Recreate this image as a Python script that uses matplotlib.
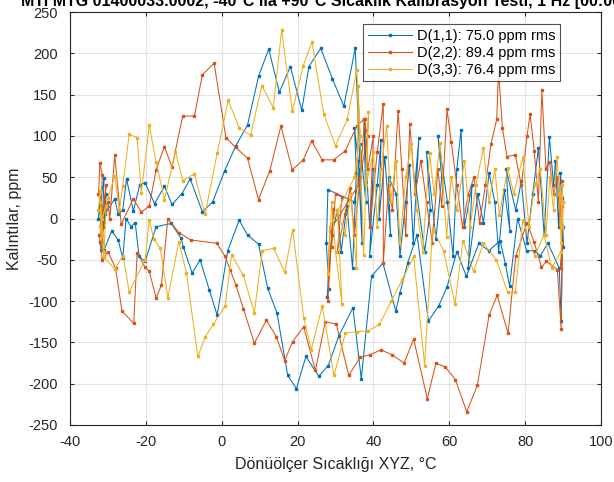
import matplotlib
matplotlib.use("Agg")
import matplotlib.pyplot as plt

plt.rcParams['font.family'] = ['Liberation Sans', 'DejaVu Sans']
plt.rcParams['axes.unicode_minus'] = False

# ---------------- data ----------------
# D(1,1)
t11 = [-32.5, -32.0, -31.5, -32.2, -31.0, -31.8, -30.5, -31.2, -30.0, -30.8,
       -28.2, -27.3, -26.1, -25.1, -23.3, -21.6, -20.2, -17.7, -15.1, -13.1, -10.5, -8.3, -5.1, -2.4,
       0.8, 3.7, 6.8, 9.7, 12.4, 15.2, 18.1, 21.1, 23.0, 26.1, 29.2, 32.2, 35.2,
       36.5, 35.0, 28.0, 27.6, 28.2, 27.8, 29.0, 30.5, 31.5, 33.0, 34.5, 35.5, 35.0, 36.0, 37.0, 36.5,
       38.0, 37.5, 39.0, 40.0, 39.0, 41.0, 42.0, 41.5, 43.0, 44.5, 44.0, 46.0, 47.0, 48.5, 49.5, 50.5,
       52.0, 51.0, 53.5, 55.0, 54.0, 56.5, 58.0, 57.0, 59.5, 61.0, 62.0, 63.1, 64.0, 66.0, 65.0, 67.5,
       69.0, 70.5, 72.0, 73.0, 74.5, 76.0, 75.0, 77.5, 79.0, 80.5, 82.0, 83.5, 85.0, 86.4, 87.5, 88.0,
       88.8, 89.3, 89.8, 90.0, 89.6, 89.9,
       89.5, 89.0, 86.0, 84.0, 82.4, 80.4, 78.0, 75.9, 74.8, 73.4, 70.4, 67.8, 64.5, 62.0, 59.4, 57.2,
       54.5, 51.5, 49.0, 47.0, 45.9, 42.5, 39.5, 36.8, 34.6, 30.9, 28.1, 25.6, 22.2, 19.7, 17.4, 14.6,
       12.1, 9.7, 6.8, 4.6, 1.6, -1.2, -3.3, -5.7, -7.8, -10.1, -10.7, -13.3, -17.3, -20.2, -21.8,
       -22.8, -23.9, -25.2, -26.1, -27.3, -29.0, -31.0, -32.1]
d11 = [0, 26, -29, 15, 49, -38, 30, -10, 20, 5,
       24, 5, 10, 48, 9, 41, 43, 18, 39, 17, 30, 48, 8, 20,
       58, 88, 113, 172, 205, 153, 184, 131, 184, 206, 169, 136, 206,
       60, 20, 35, -30, -85, -95, -20, 10, -40, 15, -60, 55, 110, 70, -30, 90,
       20, 120, -10, 60, -45, 40, 95, 0, 75, -20, 50, 30, -45, 20, 65, -30,
       98, 45, -40, 10, 80, -25, 50, 100, 20, -45, 60, 107, -10, 40, -60, 30,
       -5, 55, 20, -40, 35, -15, 60, 10, 45, -30, 30, 85, -20, 99, 40, 70,
       -10, 55, 25, -35, 15, -10,
       -124, -60, -30, -45, -39, -39, 0, -82, -55, -27, -39, -30, -70, -40, -83, -106,
       -124, -20, -54, -90, -112, -54, -70, -194, -108, -142, -178, -191, -167, -206, -190, -115,
       -84, -31, -20, -2, -39, -117, -86, -50, -66, -35, -24, -6, -10, -52, -46,
       -5, -10, 0, -48, -26, -15, -38, -29]

# D(2,2)
t22 = [-32.5, -32.1, -31.5, -32.0, -31.2, -30.5, -31.8, -30.0, -29.5,
       -28.2, -26.5, -23.3, -21.2, -19.1, -17.3, -15.1, -13.1, -10.3, -7.2, -5.1, -2.0,
       1.1, 3.7, 6.8, 9.7, 12.7, 15.6, 18.6, 21.5, 23.7, 26.5, 29.5, 32.6, 35.6, 37.5,
       38.5, 36.0, 28.5, 28.0, 29.4, 29.0, 30.0, 31.7, 30.5, 32.5, 33.9, 35.0, 36.5, 37.7, 38.5,
       40.0, 39.0, 41.0, 42.6, 42.6, 44.0, 45.0, 46.5, 47.5, 48.5, 49.6, 51.0, 52.5, 54.0, 55.5,
       57.0, 58.0, 59.4, 60.5, 62.0, 63.5, 65.0, 66.5, 68.0, 69.5, 71.0, 72.5, 73.0, 74.0, 75.2,
       77.4, 79.0, 80.5, 81.3, 82.4, 83.5, 84.4, 85.5, 86.4, 87.5, 88.5, 89.2, 89.6, 90.0, 89.4, 89.8,
       89.5, 88.5, 85.6, 84.3, 82.4, 80.5, 77.5, 75.5, 72.6, 70.5, 67.4, 64.6, 61.6, 59.0, 56.5,
       54.2, 50.6, 48.1, 44.9, 42.0, 39.1, 36.5, 33.5, 30.2, 27.3, 24.7, 21.6, 18.7, 16.6, 14.4,
       11.8, 8.6, 5.7, 3.7, 2.2, 0.8, -1.3, -8.2, -11.3, -14.2, -15.9, -17.3, -19.1, -20.2, -22.3,
       -23.2, -26.3, -28.0, -30.0, -31.5, -32.3]
d22 = [30, 67, 53, -20, 10, 40, -30, 20, 0,
       77, -7, 24, 8, 15, 59, 87, 62, 124, 124, 174, 188,
       98, 86, 73, 23, 58, 112, 59, 71, 94, 71, 71, 82, 112, 120,
       100, 40, -15, -100, 12, -34, 30, 26, -40, 5, 37, -20, 50, 121, 60,
       100, -10, 80, 139, -54, 40, 10, 130, 60, -20, 114, 30, 70, 20, -30,
       60, 15, 132, 93, 40, -10, 29, 50, -5, 40, 90, 120, 178, 110, 75,
       77, 40, 100, 126, 82, 20, 155, 60, 69, 30, 50, -10, 45, 20, -60, -30,
       -134, -62, -52, -59, -29, -5, -46, -139, -93, -117, -202, -234, -195, -180, -175,
       -218, -146, -175, -165, -159, -165, -168, -190, -128, -125, -184, -131, -149, -172, -143,
       -123, -151, -109, -80, -62, -45, -30, -26, -17, 0, -81, -96, -64, -59, -42,
       -127, -112, -60, -40, -50, -20]

# D(3,3)
t33 = [-32.5, -32.1, -31.6, -32.0, -31.0, -30.5, -31.5, -30.0,
       -28.2, -27.0, -26.1, -24.4, -22.3, -21.2, -19.1, -17.3, -15.1, -12.2, -10.3, -7.2, -4.4, -1.2,
       1.7, 4.6, 7.6, 10.6, 13.6, 15.8, 18.6, 21.5, 23.8, 26.9, 30.0, 33.1, 35.6,
       36.5, 35.0, 28.5, 28.0, 29.0, 30.0, 31.7, 30.5, 32.5, 34.0, 35.5, 36.0, 37.4, 38.7, 38.0,
       40.0, 41.0, 42.0, 43.5, 44.5, 46.0, 47.0, 48.5, 50.0, 51.5, 53.0, 54.8, 56.0, 57.6, 59.3,
       60.5, 62.0, 64.0, 65.5, 67.0, 69.0, 70.5, 72.0, 73.2, 75.4, 77.0, 79.4, 81.0, 82.5, 84.0,
       85.5, 86.5, 87.5, 88.4, 89.0, 89.5, 90.0, 89.6, 89.8,
       89.5, 87.0, 85.0, 82.5, 79.4, 77.4, 75.4, 72.4, 69.0, 66.4, 63.6, 61.5, 58.5, 55.6, 53.5,
       50.6, 47.6, 44.7, 41.6, 38.7, 35.6, 32.6, 29.6, 26.5, 23.6, 21.6, 18.7, 16.6, 13.7, 10.7,
       8.6, 5.7, 2.6, 0.9, -2.2, -4.3, -6.3, -9.3, -11.3, -14.2, -16.2, -17.9, -19.1, -20.2,
       -24.4, -26.0, -28.2, -31.1, -32.1]
d33 = [10, 33, -20, 20, -40, 15, 0, 25,
       51, 10, 39, 102, 98, 31, 113, 68, 23, 81, 46, 54, 5, 79,
       143, 110, 101, 161, 134, 228, 130, 185, 214, 126, 88, 120, 180,
       100, 50, -10, -67, 20, -40, -104, 10, -20, 30, -60, 161, -44, 129, 40,
       80, -10, 60, 112, 20, 70, -30, 50, 90, 10, -40, 79, 30, 92, -22,
       50, 10, 70, -10, 40, 85, 20, 60, 4, 61, 30, 74, -10, 40, 60,
       -20, 50, 10, 75, 30, -30, 20, -10, 40,
       -40, -60, -20, -45, -2, -89, -89, -50, -30, -64, -27, -104, -39, -12, -178,
       -46, -74, -100, -128, -136, -137, -139, -190, -106, -159, -120, -14, -65, -36, -39,
       -114, -69, -44, -106, -128, -143, -167, -66, -28, -96, -36, -25, -2, -50,
       -89, -45, -61, -47, -9]

labels = ["D(1,1): 75.0 ppm rms", "D(2,2): 89.4 ppm rms", "D(3,3): 76.4 ppm rms"]
colors = ["#0072BD", "#D95319", "#EDB120"]
title = "MTi MTG 01400033.0002, -40°C ila +90°C Sıcaklık Kalibrasyon Testi, 1 Hz [00:00:00]"
xticks = [-40, -20, 0, 20, 40, 60, 80, 100]
yticks = [-250, -200, -150, -100, -50, 0, 50, 100, 150, 200, 250]

# ---------------- figure ----------------
fig = plt.figure(figsize=(6.14, 4.82), dpi=100)
ax = fig.add_axes([70/614, 1 - 425/482, 531/614, 413/482])

for t, d, c, lab in zip([t11, t22, t33], [d11, d22, d33], colors, labels):
    ax.plot(t, d, color=c, lw=0.75, marker='s', ms=2.0, mfc=c, mec=c, label=lab)

ax.set_xlim(-40, 100)
ax.set_ylim(-250, 250)
ax.set_xticks(xticks)
ax.set_yticks(yticks)
ax.grid(True, color='#e3e3e3', lw=0.8)
ax.set_axisbelow(True)
ax.tick_params(direction='in', length=3, labelsize=10.5, colors='#262626',
               top=True, right=True)
ax.tick_params(axis='x', pad=7)
ax.tick_params(axis='y', pad=9)
for s in ax.spines.values():
    s.set_color('#262626')
    s.set_linewidth(0.8)
ax.set_xlabel("Dönüölçer Sıcaklığı XYZ, °C", fontsize=11.5, color='#262626', labelpad=6)
ax.set_ylabel("Kalıntılar, ppm", fontsize=11.5, color='#262626', labelpad=4)

leg = ax.legend(loc='upper right', bbox_to_anchor=(0.937, 0.988), fontsize=10.5,
                frameon=True, fancybox=False, edgecolor='#262626',
                borderpad=0.3, labelspacing=0.22, handlelength=3.0, handletextpad=0.4)
leg.get_frame().set_linewidth(0.8)

fig.text(335/614, 1 - 6/482, title, ha='center', va='baseline', fontsize=11.5,
         fontweight='bold', color='#000000')

fig.savefig("out.png", dpi=100)
